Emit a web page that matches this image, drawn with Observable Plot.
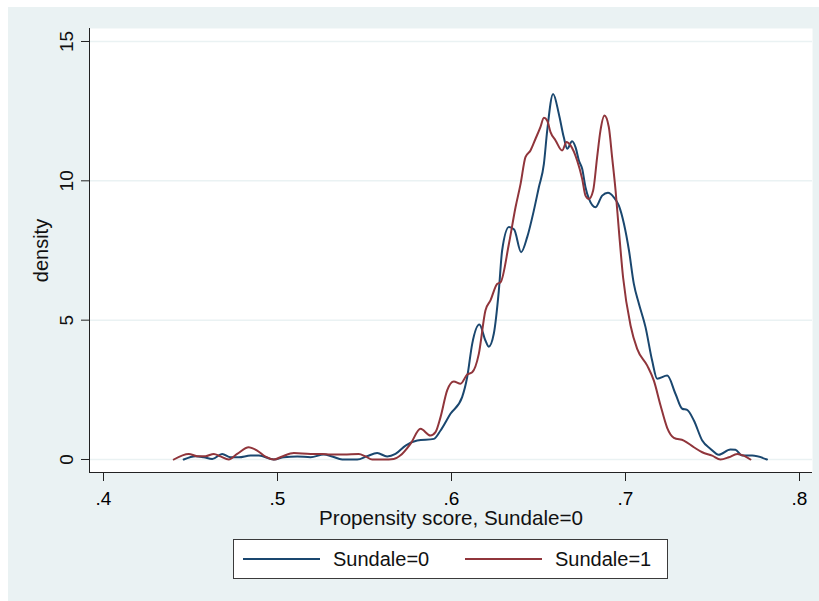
<!DOCTYPE html>
<html>
<head>
<meta charset="utf-8">
<script src="https://cdn.jsdelivr.net/npm/d3@7"></script>
<script src="https://cdn.jsdelivr.net/npm/@observablehq/plot@0.6"></script>
<style>
  html, body { margin: 0; padding: 0; background: #ffffff; }
  #bg { position: absolute; left: 8px; top: 7px; width: 811px; height: 594px; background: #EAF2F3; font-family: "Liberation Sans", Arial, sans-serif; }
  #chart { position: absolute; left: 0; top: 0; }
  #legend { position: absolute; left: 225px; top: 532px; width: 435px; height: 40px; box-sizing: border-box; border: 1px solid #3a3a3a; background: #ffffff; }
  #legend .ln { position: absolute; top: 18px; height: 2px; }
  #legend .tx { position: absolute; top: 0; line-height: 38px; font-size: 20px; color: #111; white-space: nowrap; }
</style>
</head>
<body>
<div id="bg">
  <div id="chart"></div>
  <div id="legend"></div>
</div>
<script>
// ---- data ----
const seriesNames = ["Sundale=0", "Sundale=1"];
const seriesColors = ["#1a476f", "#90353b"];

const s0X = [.4461,.4529,.4577,.4625,.4682,.4730,.4778,.4845,.4893,.4979,.5036,.5113,.5190,.5266,.5314,.5372,.5458,.5515,.5573,.5630,.5678,.5736,.5803,.5899,.5937,.5994,.6061,.6090,.6119,.6160,.6195,.6214,.6243,.6272,.6291,.6330,.6360,.6400,.6435,.6473,.6502,.6531,.6550,.6584,.6617,.6645,.6665,.6693,.6713,.6732,.6751,.6770,.6790,.6828,.6866,.6899,.6933,.6962,.6991,.7020,.7048,.7077,.7115,.7153,.7182,.7240,.7287,.7326,.7354,.7393,.7441,.7489,.7536,.7603,.7632,.7670,.7728,.7813];
const s0Y = [0,.12,.08,.02,.20,.08,.08,.14,.14,0,.08,.11,.08,.18,.11,0,0,.12,.23,.11,.20,.50,.68,.74,1.04,1.64,2.24,2.95,4.15,4.84,4.27,4.05,4.51,6.06,7.50,8.34,8.25,7.44,7.98,8.93,9.77,10.61,11.80,13.12,12.40,11.57,11.15,11.42,11.20,10.73,10.43,9.77,9.35,9.05,9.47,9.57,9.41,9.11,8.46,7.50,6.30,5.59,4.75,3.55,2.90,3.01,2.36,1.82,1.78,1.40,.68,.38,.17,.36,.35,.14,.14,0];

const s1X = [.4404,.4490,.4538,.4586,.4634,.4672,.4720,.4768,.4835,.4883,.4931,.4979,.5027,.5094,.5190,.5257,.5305,.5381,.5467,.5506,.5544,.5611,.5668,.5707,.5764,.5822,.5879,.5908,.5937,.5975,.6013,.6052,.6090,.6119,.6157,.6195,.6224,.6262,.6282,.6330,.6368,.6397,.6425,.6454,.6483,.6511,.6531,.6550,.6569,.6598,.6636,.6661,.6684,.6722,.6751,.6770,.6790,.6814,.6837,.6856,.6879,.6904,.6923,.6943,.6962,.6986,.7029,.7067,.7125,.7163,.7201,.7240,.7278,.7335,.7393,.7441,.7498,.7546,.7594,.7642,.7680,.7718];
const s1Y = [0,.20,.12,.12,.20,.11,0,.20,.44,.32,.10,0,.11,.23,.20,.20,.18,.18,.20,.11,0,0,.02,.15,.56,1.10,.86,.98,1.52,2.48,2.80,2.72,3.05,3.13,3.79,5.35,5.71,6.30,6.36,7.74,9.05,9.89,10.85,11.09,11.51,11.93,12.26,12.16,11.75,11.45,11.09,11.39,11.27,10.73,10.07,9.47,9.35,9.65,10.85,11.80,12.34,11.93,10.85,9.65,8.22,6.54,4.81,3.97,3.37,2.83,1.95,1.13,.78,.68,.44,.26,.14,0,.08,.20,.14,0];

const xTicks = [.4, .5, .6, .7, .8];
const xTickLabels = [".4", ".5", ".6", ".7", ".8"];
const yTicks = [0, 5, 10, 15];
const yTickLabels = ["0", "5", "10", "15"];
const xTitle = "Propensity score, Sundale=0";
const yTitle = "density";

// ---- chart ----
const xDomain = [0.39195, 0.80747];
const yDomain = [-0.4665, 15.466];

const plot = Plot.plot({
  width: 811,
  height: 530,
  marginLeft: 81,
  marginRight: 7,
  marginTop: 21,
  marginBottom: 65,
  style: { background: "#EAF2F3", fontFamily: "'Liberation Sans', Arial, sans-serif", overflow: "visible" },
  x: { domain: xDomain },
  y: { domain: yDomain },
  marks: [
    Plot.frame({ fill: "white", stroke: "none" }),
    Plot.gridY(yTicks, { stroke: "#EAF2F3", strokeOpacity: 1, strokeWidth: 1.5 }),
    Plot.ruleX([xDomain[0]], { stroke: "#222", strokeWidth: 1 }),
    Plot.ruleY([yDomain[0]], { stroke: "#222", strokeWidth: 1 }),
    Plot.axisX({ ticks: xTicks, tickFormat: d => xTickLabels[xTicks.indexOf(d)], tickSize: 9, tickPadding: 9.5, fontSize: 19, label: null, stroke: "#222" }),
    Plot.axisY({ ticks: yTicks, tickFormat: () => "", tickSize: 8, label: null, stroke: "#222" }),
    Plot.text(yTicks, { y: d => d, text: (d, i) => yTickLabels[i], frameAnchor: "left", rotate: -90, textAnchor: "middle", lineAnchor: "bottom", dx: -17, fontSize: 19, fill: "#111" }),
    Plot.text([xTitle], { text: d => d, frameAnchor: "bottom", lineAnchor: "bottom", dy: 52.3, fontSize: 20.6, fill: "#111" }),
    Plot.text([yTitle], { text: d => d, frameAnchor: "left", rotate: -90, textAnchor: "middle", lineAnchor: "bottom", dx: -41.5, fontSize: 20, fill: "#111" }),
    Plot.line(s0X, { x: s0X, y: s0Y, stroke: seriesColors[0], strokeWidth: 2, curve: "monotone-x" }),
    Plot.line(s1X, { x: s1X, y: s1Y, stroke: seriesColors[1], strokeWidth: 2, curve: "monotone-x" })
  ]
});
document.getElementById("chart").appendChild(plot);

// ---- legend ----
const legend = document.getElementById("legend");
const legendPos = [[9, 99], [231, 321]];
seriesNames.forEach((name, i) => {
  const ln = document.createElement("div");
  ln.className = "ln";
  ln.style.left = legendPos[i][0] + "px";
  ln.style.width = "77px";
  ln.style.background = seriesColors[i];
  legend.appendChild(ln);
  const tx = document.createElement("div");
  tx.className = "tx";
  tx.style.left = legendPos[i][1] + "px";
  tx.textContent = name;
  legend.appendChild(tx);
});
</script>
</body>
</html>
